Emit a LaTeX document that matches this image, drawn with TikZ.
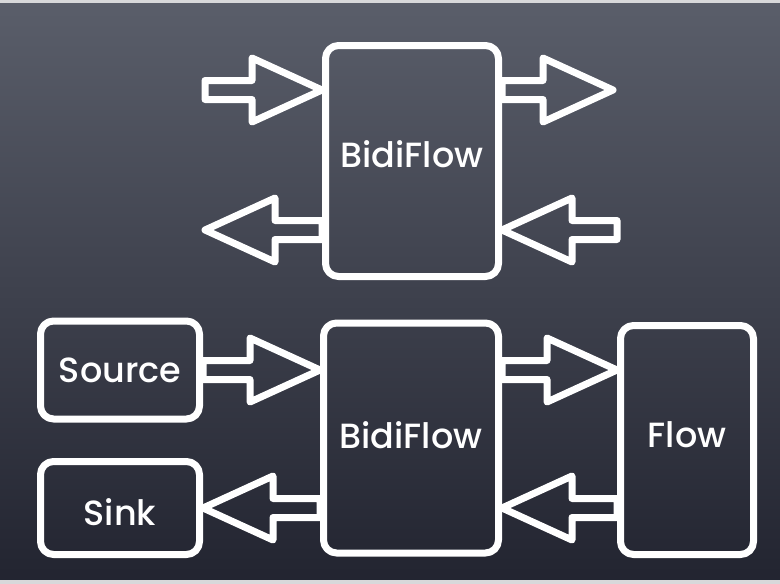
\documentclass[tikz,border=0pt]{standalone}
\usepackage{fontspec}
\setmainfont{Poppins}[UprightFont=* Medium]
\usetikzlibrary{calc}
\definecolor{boardtop}{RGB}{90,94,106}
\definecolor{boardbot}{RGB}{34,36,48}
\definecolor{boardframe}{RGB}{216,216,218}
\tikzset{
        chalk/.style={draw=white, line width=7pt, line join=round},
        box/.style={chalk, rounded corners=13pt, inner sep=0pt, text=white, font=\fontsize{35}{35}\selectfont},
}
\newcommand{\blockarrow}[2]{%
        \draw[chalk] let \p1=(#1), \p2=(#2), \p3=($(#2)!70pt!(#1)$) in
                (\x1,\y2+9.5pt) -- (\x3,\y2+9.5pt) -- (\x3,\y2+32pt) -- (\p2)
                -- (\x3,\y2-32pt) -- (\x3,\y2-9.5pt) -- (\x1,\y2-9.5pt) -- cycle;
}
\begin{document}
\begin{tikzpicture}[x=1pt, y=-1pt]
        \fill[top color=boardtop, bottom color=boardbot] (0,0) rectangle (780,584);
        \fill[boardframe] (0,0) rectangle (780,3);
        \fill[boardframe] (0,580) rectangle (780,584);

        \node[box, minimum width=173pt, minimum height=231pt, text depth=13pt] (bidiTop) at (412,161) {BidiFlow};
        \coordinate (inL) at (205,90);
        \coordinate (outR) at (613,90);
        \coordinate (outL) at (205,230);
        \coordinate (inR) at (617,230);
        \blockarrow{inL}{bidiTop.west |- inL}
        \blockarrow{bidiTop.east |- outR}{outR}
        \blockarrow{bidiTop.west |- outL}{outL}
        \blockarrow{inR}{bidiTop.east |- inR}

        \node[box, minimum width=159pt, minimum height=98pt] (source) at (120,370) {Source};
        \node[box, minimum width=159pt, minimum height=93pt, text height=36pt] (sink) at (120,508) {Sink};
        \node[box, minimum width=175pt, minimum height=230pt, text depth=6pt] (bidi) at (411,438) {BidiFlow};
        \node[box, minimum width=133pt, minimum height=229pt, text depth=10pt] (flow) at (687,440) {Flow};
        \blockarrow{source.east}{bidi.west |- source.east}
        \blockarrow{bidi.west |- sink.east}{sink.east}
        \blockarrow{bidi.east |- source.east}{flow.west |- source.east}
        \blockarrow{flow.west |- sink.east}{bidi.east |- sink.east}
\end{tikzpicture}
\end{document}
